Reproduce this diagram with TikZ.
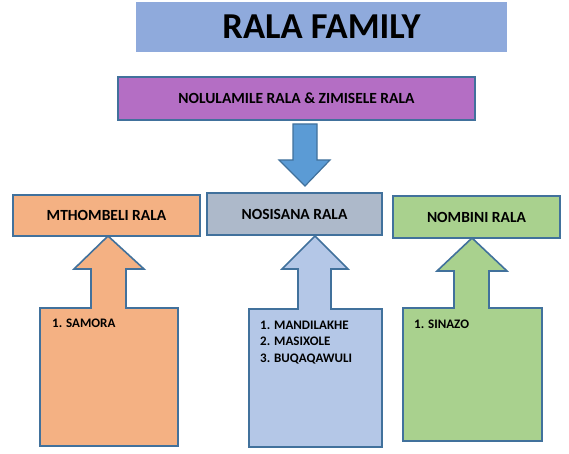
\documentclass[tikz,border=0pt]{standalone}
\usepackage{fontspec}
\setmainfont{Carlito}
\usetikzlibrary{calc}
\definecolor{edgeblue}{HTML}{41719C}
\definecolor{titlefill}{HTML}{8FAADC}
\definecolor{parentfill}{HTML}{B46EC4}
\definecolor{arrowfill}{HTML}{5B9BD5}
\definecolor{orangefill}{HTML}{F4B183}
\definecolor{slatefill}{HTML}{ADB9CA}
\definecolor{greenfill}{HTML}{A9D18E}
\definecolor{listfill}{HTML}{B4C7E7}

\begin{document}
\begin{tikzpicture}[x=1pt, y=-1pt,
        famline/.style={draw=edgeblue, line width=1.6pt, line join=miter},
        childbox/.style={famline, inner sep=0pt, minimum height=41pt,
            font=\bfseries\fontsize{15.5}{17}\selectfont},
        namelist/.style={anchor=north west, inner sep=0pt, align=left,
            font=\bfseries\fontsize{13}{16.5}\selectfont}]
    \useasboundingbox (0,0) rectangle (569,454);

    \node[fill=titlefill, inner sep=0pt, minimum width=371pt, minimum height=50pt,
        font=\bfseries\fontsize{36.5}{40}\selectfont] (title) at (321.5,27) {RALA FAMILY};
    \node[famline, fill=parentfill, inner sep=0pt, minimum width=357pt, minimum height=43pt,
        font=\bfseries\fontsize{15.5}{17}\selectfont] (parents) at (296.5,98.5) {NOLULAMILE RALA \& ZIMISELE RALA};

    \node[childbox, fill=orangefill, minimum width=187pt] (mthombeli) at (106.5,215.5) {MTHOMBELI RALA};
    \node[childbox, fill=slatefill, minimum width=175pt, minimum height=42pt] (nosisana) at (294.5,214) {NOSISANA RALA};
    \node[childbox, fill=greenfill, minimum width=167pt, minimum height=42pt] (nombini) at (476.5,217) {NOMBINI RALA};

    \coordinate (downtop) at (305,124);
    \coordinate (downtip) at (305,186);
    \draw[famline, line width=1.2pt, fill=arrowfill]
        ($(downtop)+(-12,0)$) -- ($(downtop)+(12,0)$) -- ($(downtop)+(12,36)$)
        -- ($(downtop)+(25,36)$) -- (downtip) -- ($(downtop)+(-26,36)$)
        -- ($(downtop)+(-12,36)$) -- cycle;

    \draw[famline, fill=orangefill] (40,446) -- (40,308) -- (91,308) -- (91,269) -- (74,269)
        -- (108,236) -- (144,269) -- (126,269) -- (126,308) -- (178,308) -- (178,446) -- cycle;
    \draw[famline, fill=listfill] (249,447) -- (249,309) -- (298,309) -- (298,269) -- (282,269)
        -- (315,236) -- (348,269) -- (331,269) -- (331,309) -- (382,309) -- (382,447) -- cycle;
    \draw[famline, fill=greenfill] (403,441) -- (403,308) -- (454,308) -- (454,271) -- (437,271)
        -- (472,238) -- (507,271) -- (489,271) -- (489,308) -- (542,308) -- (542,441) -- cycle;

    \node[namelist] (samora) at (52,319) {1. SAMORA};
    \node[namelist] (nosisanakids) at (260,320.5) {1. MANDILAKHE\\2. MASIXOLE\\3. BUQAQAWULI};
    \node[namelist] (sinazo) at (414,319.5) {1. SINAZO};
\end{tikzpicture}
\end{document}
